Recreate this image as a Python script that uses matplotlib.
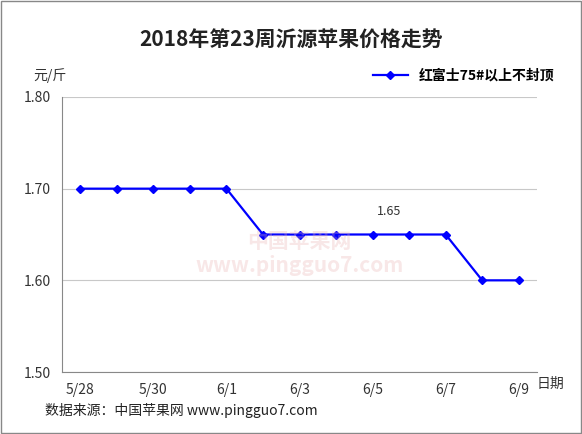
import matplotlib
matplotlib.use("Agg")
import matplotlib.pyplot as plt

plt.rcParams['font.family'] = ['Noto Sans CJK SC', 'DejaVu Sans']

dates = ["5/28","5/29","5/30","5/31","6/1","6/2","6/3","6/4","6/5","6/6","6/7","6/8","6/9"]
prices = [1.70,1.70,1.70,1.70,1.70,1.65,1.65,1.65,1.65,1.65,1.65,1.60,1.60]
series_name = "红富士75#以上不封顶"
yticks = [1.50,1.60,1.70,1.80]

W, H = 582, 434
fig = plt.figure(figsize=(W/100, H/100), dpi=100)
ax = fig.add_axes([62/W, 1-372/H, (537-62)/W, (372-97)/H])
x = list(range(len(dates)))
ax.plot(x, prices, color='#0000ff', lw=1.6, marker='D', ms=4.5, label=series_name)
ax.set_xlim(-0.5, len(dates)-0.5)
ax.set_ylim(1.50, 1.80)
ax.set_yticks(yticks)
ax.set_yticklabels([f"{v:.2f}" for v in yticks], fontsize=10, color='#333333')
ax.set_xticks(x[::2])
ax.set_xticklabels(dates[::2], fontsize=10, color='#333333')
ax.grid(axis='y', color='#c8c8c8', lw=0.8)
ax.set_axisbelow(True)
for s in ['top','right']:
    ax.spines[s].set_visible(False)
for s in ['left','bottom']:
    ax.spines[s].set_color('#888888')
ax.tick_params(length=0, pad=8)
ax.annotate(f"{prices[8]:.2f}", (x[8], prices[8]), xytext=(12, 14), textcoords='offset points',
            ha='center', fontsize=9, color='#333333')
ax.text(0.5, 0.43, "中国苹果网\nwww.pingguo7.com", transform=ax.transAxes, ha='center', va='center',
        fontsize=15, color='#e8b0b0', alpha=0.3, fontweight='bold')
fig.text(0.5, 1-40/H, "2018年第23周沂源苹果价格走势", ha='center', va='center', fontsize=15, fontweight='bold', color='#222222')
fig.text(33/W, 1-76/H, "元/斤", ha='left', va='center', fontsize=10, color='#333333')
fig.text(537/W, 1-384/H, "日期", ha='left', va='center', fontsize=10, color='#333333')
fig.text(45/W, 1-411/H, "数据来源：中国苹果网 www.pingguo7.com", ha='left', va='center', fontsize=10, color='#222222')
fig.legend(loc='center right', bbox_to_anchor=(560/W, 1-76/H), frameon=False,
           handlelength=2.5, borderaxespad=0, prop={'weight': 'bold', 'size': 10})
fig.patches.append(plt.Rectangle((0.002, 0.002), 0.996, 0.996, transform=fig.transFigure,
                                 fill=False, ec='#888888', lw=1))
fig.savefig("out.png", dpi=100)
